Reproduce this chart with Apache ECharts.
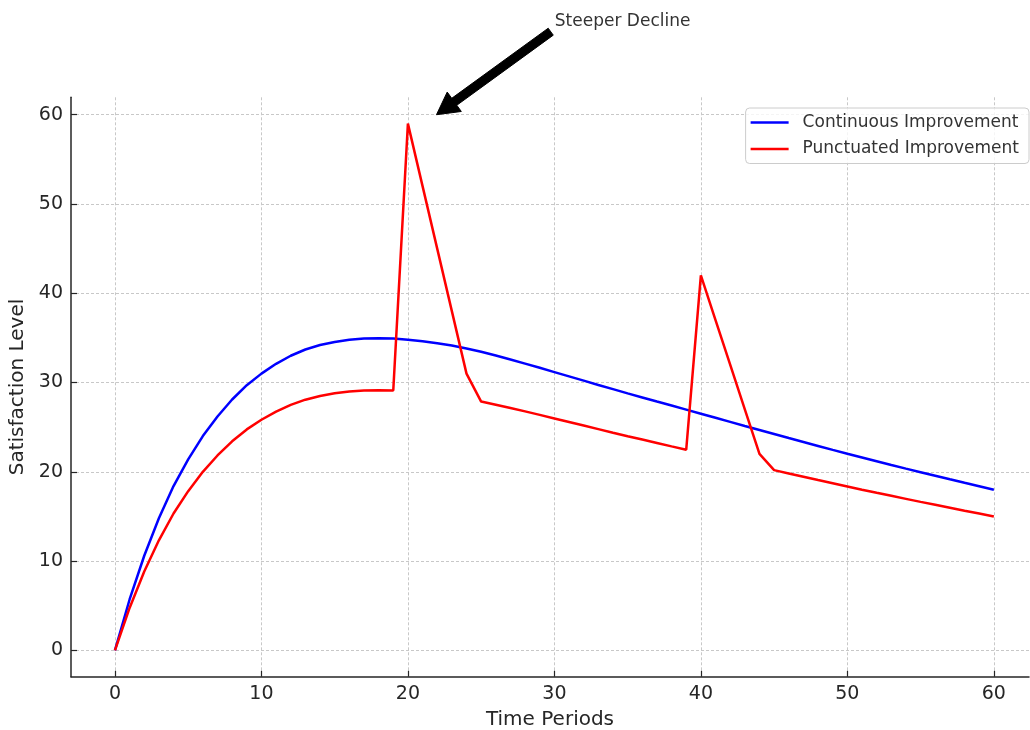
<!DOCTYPE html>
<html>
<head>
<meta charset="utf-8">
<script src="https://cdn.jsdelivr.net/npm/echarts@6/dist/echarts.min.js"></script>
<style>
html,body{margin:0;padding:0;background:#fff;}
#chart{width:1030px;height:730px;}
</style>
</head>
<body>
<div id="chart"></div>
<script>
const periods = [0,1,2,3,4,5,6,7,8,9,10,11,12,13,14,15,16,17,18,19,20,21,22,23,24,25,26,27,28,29,30,31,32,33,34,35,36,37,38,39,40,41,42,43,44,45,46,47,48,49,50,51,52,53,54,55,56,57,58,59,60];
const continuous = [0,5.7,10.6,14.8,18.4,21.4,24.0,26.2,28.1,29.7,31.0,32.1,33.0,33.7,34.2,34.55,34.8,34.93,34.97,34.93,34.8,34.63,34.41,34.14,33.82,33.44,33.02,32.58,32.12,31.65,31.17,30.69,30.21,29.73,29.26,28.79,28.33,27.87,27.42,26.97,26.51,26.05,25.59,25.13,24.68,24.23,23.78,23.34,22.9,22.46,22.03,21.61,21.19,20.77,20.36,19.96,19.56,19.16,18.77,18.39,18.0];
const punctuated = [0,4.75,8.83,12.33,15.33,17.83,20.0,21.83,23.42,24.75,25.83,26.75,27.5,28.08,28.5,28.79,29.0,29.11,29.14,29.11,59,52,45,38,31,27.87,27.52,27.15,26.77,26.38,25.98,25.58,25.18,24.78,24.38,23.99,23.61,23.23,22.85,22.48,42,37,32,27,22,20.19,19.82,19.45,19.08,18.72,18.36,18.0,17.65,17.31,16.97,16.63,16.3,15.97,15.64,15.32,15.0];
const xTicks = [0,10,20,30,40,50,60];
const yTicks = [0,10,20,30,40,50,60];
const seriesNames = ['Continuous Improvement','Punctuated Improvement'];
const annotationText = 'Steeper Decline';
const arrowTip = [21.95, 60.0];
const arrowTail = [29.75, 69.3];
const textPos = [30.03, 69.5];

const font = 'DejaVu Sans, Liberation Sans, sans-serif';
const chart = echarts.init(document.getElementById('chart'), null, {renderer:'canvas'});
const toPairs = (xs, ys) => xs.map((x,i)=>[x, ys[i]]);
const lineIcon = 'path://M0,0 L40,0 L40,2.6 L0,2.6 Z';

chart.setOption({
  animation: false,
  backgroundColor: '#ffffff',
  grid: {left: 71, top: 97.3, width: 958, height: 579.4, containLabel: false, outerBoundsMode: 'none'},
  xAxis: {
    type: 'value', min: -3, max: 62.4,
    name: 'Time Periods', nameLocation: 'middle', nameGap: 33.5,
    nameTextStyle: {fontFamily: font, fontSize: 20, color: '#262626'},
    axisLine: {show: true, onZero: false, lineStyle: {color: '#262626', width: 1.5}},
    axisTick: {show: true, inside: true, length: 6, customValues: xTicks, lineStyle: {color: '#262626', width: 1.2}},
    axisLabel: {customValues: xTicks, fontFamily: font, fontSize: 19, color: '#262626', margin: 8},
    splitLine: {show: true, lineStyle: {color: '#c8c8c8', type: [3, 2], width: 1}}
  },
  yAxis: {
    type: 'value', min: -2.95, max: 61.95,
    name: 'Satisfaction Level', nameLocation: 'middle', nameGap: 36,
    nameTextStyle: {fontFamily: font, fontSize: 20, color: '#262626'},
    axisLine: {show: true, onZero: false, lineStyle: {color: '#262626', width: 1.5}},
    axisTick: {show: true, inside: true, length: 6, customValues: yTicks, lineStyle: {color: '#262626', width: 1.2}},
    axisLabel: {customValues: yTicks, fontFamily: font, fontSize: 19, color: '#262626', margin: 8},
    splitLine: {show: true, lineStyle: {color: '#c8c8c8', type: [3, 2], width: 1}}
  },
  legend: {
    orient: 'vertical', right: 1, top: 108, align: 'left',
    itemWidth: 38, itemHeight: 14, itemGap: 9.5,
    padding: [6, 10, 6, 5],
    backgroundColor: 'rgba(255,255,255,0.8)', borderColor: '#cccccc', borderWidth: 1, borderRadius: 4,
    textStyle: {fontFamily: font, fontSize: 17, color: '#333333', padding: [0,0,0,9]},
    data: [
      {name: seriesNames[0], icon: lineIcon, itemStyle: {color: '#0000ff'}},
      {name: seriesNames[1], icon: lineIcon, itemStyle: {color: '#ff0000'}}
    ]
  },
  series: [
    {name: seriesNames[0], type: 'line', data: toPairs(periods, continuous), symbol: 'none', smooth: false,
     lineStyle: {color: '#0000ff', width: 2.5}, itemStyle: {color: '#0000ff'}},
    {name: seriesNames[1], type: 'line', data: toPairs(periods, punctuated), symbol: 'none', smooth: false,
     lineStyle: {color: '#ff0000', width: 2.5}, itemStyle: {color: '#ff0000'}}
  ]
});

const tip = chart.convertToPixel({gridIndex: 0}, arrowTip);
const tail = chart.convertToPixel({gridIndex: 0}, arrowTail);
const tp = chart.convertToPixel({gridIndex: 0}, textPos);
const dx = tip[0]-tail[0], dy = tip[1]-tail[1];
const len = Math.sqrt(dx*dx+dy*dy);
const ux = dx/len, uy = dy/len, px = -uy, py = ux;
const headLen = 22, headHalf = 12, shaftHalf = 4.3;
const bx = tip[0]-ux*headLen, by = tip[1]-uy*headLen;
const pts = [
  [tail[0]+px*shaftHalf, tail[1]+py*shaftHalf],
  [bx+px*shaftHalf, by+py*shaftHalf],
  [bx+px*headHalf, by+py*headHalf],
  [tip[0], tip[1]],
  [bx-px*headHalf, by-py*headHalf],
  [bx-px*shaftHalf, by-py*shaftHalf],
  [tail[0]-px*shaftHalf, tail[1]-py*shaftHalf]
];
chart.setOption({
  graphic: [
    {type: 'polygon', shape: {points: pts}, style: {fill: '#000000', stroke: '#000000', lineWidth: 1}, z: 100},
    {type: 'text', x: tp[0], y: tp[1], style: {text: annotationText, font: '17px ' + font, fill: '#333333', align: 'left', verticalAlign: 'bottom'}, z: 100}
  ]
});
</script>
</body>
</html>
